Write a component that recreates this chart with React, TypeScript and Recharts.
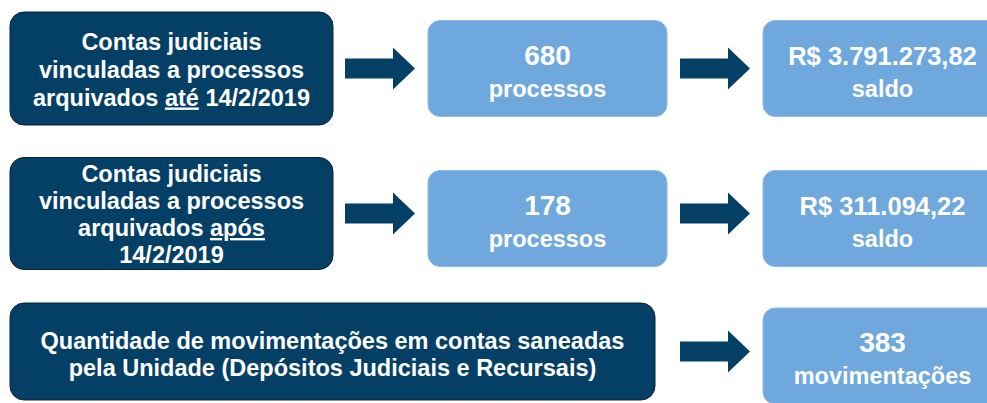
import { ScatterChart, Scatter, XAxis, YAxis } from "recharts";

// one row of the infographic per entry
const rowIds = [0, 1, 2];

// "_x_" marks an underlined word
const descricoes = [
  ["Contas judiciais", "vinculadas a processos", "arquivados _até_ 14/2/2019"],
  ["Contas judiciais", "vinculadas a processos", "arquivados _após_", "14/2/2019"],
  [
    "Quantidade de movimentações em contas saneadas",
    "pela Unidade (Depósitos Judiciais e Recursais)",
  ],
];

const processos = [680, 178];
const saldos = [3791273.82, 311094.22];
const movimentacoes = [383];

const DARK = "#043f66";
const LIGHT = "#6fa8dc";
const FONT = "'Liberation Sans', Arial, sans-serif";

const formatBRL = (v: number) => {
  const [int, dec] = v.toFixed(2).split(".");
  return `R$ ${int.replace(/\B(?=(\d{3})+(?!\d))/g, ".")},${dec}`;
};

const data = rowIds.map((i) => ({
  x: 0,
  y: i,
  lines: descricoes[i],
  boxes:
    i < 2
      ? [
          { value: String(processos[i]), unit: "processos" },
          { value: formatBRL(saldos[i]), unit: "saldo" },
        ]
      : [{ value: String(movimentacoes[0]), unit: "movimentações" }],
}));

// layout (pixels)
const DARK_H = [113, 112, 97];
const DARK_W = [323, 323, 645];
const LINE_H = [28, 27, 27.5];
const TEXT_DY = [0, 0, 2];
const LIGHT_DY = [0, 5, 4.5];
const LIGHT_W = 239;
const LIGHT_H = 96;
const COL_X = [418, 753]; // left of light boxes relative to row start

const Arrow = ({ x1, x2, cy }: { x1: number; x2: number; cy: number }) => {
  const head = 22;
  const sh = 10;
  const hh = 21;
  const hx = x2 - head;
  const d = `M${x1},${cy - sh} L${hx},${cy - sh} L${hx},${cy - hh} L${x2},${cy} L${hx},${cy + hh} L${hx},${cy + sh} L${x1},${cy + sh} Z`;
  return <path d={d} fill={DARK} />;
};

const Line = ({ text, x, y }: { text: string; x: number; y: number }) => {
  const parts = text.split("_");
  return (
    <text
      x={x}
      y={y}
      textAnchor="middle"
      fill="#fff"
      fontFamily={FONT}
      fontWeight="bold"
      fontSize={23.5}
    >
      {parts.map((p, k) => (
        <tspan key={k} style={k % 2 === 1 ? { textDecoration: "underline" } : undefined}>
          {p}
        </tspan>
      ))}
    </text>
  );
};

const RowShape = (props: any) => {
  const { cx, cy, payload } = props;
  const r = payload.y as number;
  const h = DARK_H[r];
  const w = DARK_W[r];
  const mid = cy + h / 2;
  const lines: string[] = payload.lines;
  const lh = LINE_H[r];
  const first = mid - ((lines.length - 1) * lh) / 2 + 9 + TEXT_DY[r];
  const boxes: { value: string; unit: string }[] = payload.boxes;
  const cols = boxes.length === 2 ? COL_X : [COL_X[1]];
  const boxTop = mid - LIGHT_H / 2 + LIGHT_DY[r];

  return (
    <g>
      <rect x={cx} y={cy} width={w} height={h} rx={14} fill={DARK} stroke="#0e2233" strokeWidth={1} />
      {lines.map((t, k) => (
        <Line key={k} text={t} x={cx + w / 2} y={first + k * lh} />
      ))}
      {cols.map((c, k) => {
        const bx = cx + c;
        const ax2 = bx - 13;
        const big = boxes[k].value.startsWith("R$");
        return (
          <g key={k}>
            <Arrow x1={ax2 - 70} x2={ax2} cy={mid} />
            <rect x={bx} y={boxTop} width={LIGHT_W} height={LIGHT_H} rx={12} fill={LIGHT} stroke="#8bbbe6" strokeWidth={1} />
            <text
              x={bx + LIGHT_W / 2}
              y={boxTop + 44}
              textAnchor="middle"
              fill="#fff"
              fontFamily={FONT}
              fontWeight="bold"
              fontSize={big ? 25.5 : 28}
            >
              {boxes[k].value}
            </text>
            <text
              x={bx + LIGHT_W / 2}
              y={boxTop + 76}
              textAnchor="middle"
              fill="#fff"
              fontFamily={FONT}
              fontWeight="bold"
              fontSize={23.5}
            >
              {boxes[k].unit}
            </text>
          </g>
        );
      })}
    </g>
  );
};

export default function App() {
  return (
    <div style={{ position: "absolute", left: 0, top: 0, background: "#fff" }}>
      <ScatterChart width={987} height={403} margin={{ top: 12, right: 0, bottom: 100, left: 10 }}>
        <XAxis type="number" dataKey="x" domain={[0, 1]} hide />
        <YAxis type="number" dataKey="y" domain={[0, 2]} reversed hide />
        <Scatter data={data} shape={RowShape} isAnimationActive={false} />
      </ScatterChart>
    </div>
  );
}
